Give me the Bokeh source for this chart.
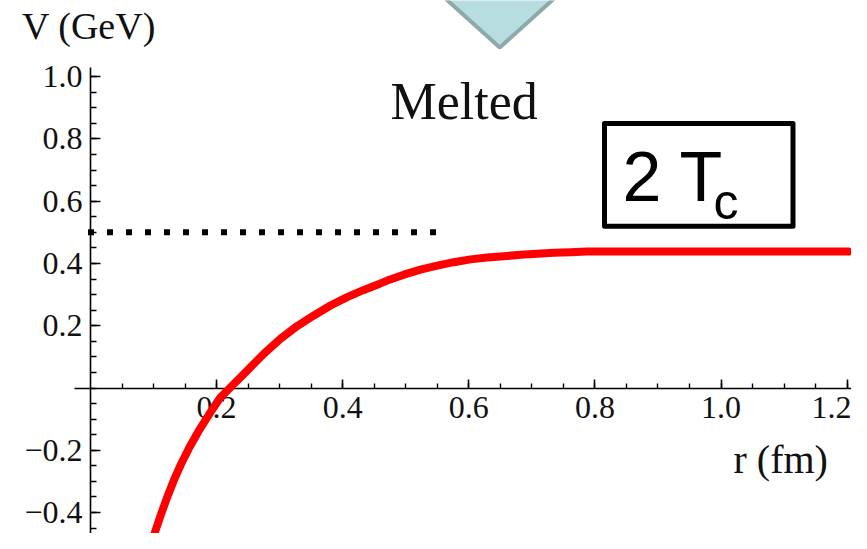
import numpy as np
from bokeh.plotting import figure
from bokeh.models import LinearAxis, FixedTicker, Label, Range1d
from bokeh.embed import file_html
from bokeh.resources import INLINE

# ---- data ----
r_fm = [0.0936, 0.1031, 0.1121, 0.1216, 0.1321, 0.1439, 0.1570, 0.1718,
        0.1887, 0.2062, 0.2210, 0.2485, 0.2749, 0.3013, 0.3278, 0.3542,
        0.3806, 0.4071, 0.4335, 0.4588, 0.4706, 0.4969, 0.5234, 0.5499,
        0.5762, 0.6027, 0.6292, 0.6555, 0.6820, 0.7085, 0.7348, 0.7613,
        0.7878, 0.8723, 1.0833, 1.2022]
V_gev = [-0.519, -0.458, -0.404, -0.351, -0.297, -0.243, -0.190, -0.137,
         -0.083, -0.030, 0.000, 0.056, 0.110, 0.158, 0.199, 0.233,
         0.265, 0.292, 0.315, 0.335, 0.345, 0.364, 0.380, 0.393,
         0.404, 0.413, 0.419, 0.423, 0.428, 0.431, 0.434, 0.436,
         0.438, 0.438, 0.438, 0.438]

thresh_r = [-0.004, 0.555]
thresh_V = [0.5, 0.5]

x_ticks = [0.2, 0.4, 0.6, 0.8, 1.0, 1.2]
x_tick_labels = ["0.2", "0.4", "0.6", "0.8", "1.0", "1.2"]
y_ticks = [-0.4, -0.2, 0.2, 0.4, 0.6, 0.8, 1.0]
y_tick_labels = ["\u22120.4", "\u22120.2", "0.2", "0.4", "0.6", "0.8", "1.0"]

x_label = "r (fm)"
y_label = "V (GeV)"
phase_label = "Melted"
temp_main = "2 T"
temp_sub = "c"

# ---- pixel helpers ----
X0, SX = 90.0, 630.5
Y0, SY = 387.5, 311.4
W, H = 851, 533


def dx(px):
    return (px - X0) / SX


def dy(py):
    return (Y0 - py) / SY


p = figure(width=W, height=H, output_backend="svg", toolbar_location=None,
           x_axis_type=None, y_axis_type=None,
           x_range=Range1d(dx(0), dx(W)), y_range=Range1d(dy(H), dy(0)),
           min_border=0)
p.outline_line_color = None
p.background_fill_color = "white"
p.border_fill_color = "white"

serif = "Liberation Serif"
sans = "Liberation Sans"

xminor = [round(v, 3) for v in np.arange(0.05, 1.21, 0.05)]
yminor = [round(v, 3) for v in np.arange(-0.5, 1.01, 0.05)]

xaxis = LinearAxis(ticker=FixedTicker(ticks=x_ticks, minor_ticks=xminor),
                   fixed_location=0, bounds=(-0.025, 1.226))
xaxis.major_label_overrides = {t: l for t, l in zip(x_ticks, x_tick_labels)}
yaxis = LinearAxis(ticker=FixedTicker(ticks=y_ticks, minor_ticks=yminor),
                   fixed_location=0, bounds=(-0.6, 1.030))
yaxis.major_label_overrides = {t: l for t, l in zip(y_ticks, y_tick_labels)}

for ax in (xaxis, yaxis):
    ax.axis_line_color = "black"
    ax.axis_line_width = 1.6
    ax.major_tick_line_color = "black"
    ax.major_tick_line_width = 1.6
    ax.minor_tick_line_color = "black"
    ax.minor_tick_line_width = 1.4
    ax.major_tick_out = 0
    ax.minor_tick_out = 0
    ax.major_label_text_font = serif
    ax.major_label_text_font_size = "32px"
    ax.major_label_text_color = "#111111"

xaxis.major_tick_in = 9
xaxis.minor_tick_in = 5
xaxis.major_label_standoff = 9
yaxis.major_tick_in = 10
yaxis.minor_tick_in = 6
yaxis.major_label_standoff = 8

p.add_layout(xaxis, "below")
p.add_layout(yaxis, "left")

# decorative arrow at top
p.patch([dx(436), dx(562.5), dx(499.3)], [dy(-10), dy(-10), dy(47)],
        fill_color="#b8dde1", line_color="#8ea9aa", line_width=4)

# threshold dotted line
p.line(thresh_r, thresh_V, line_color="black", line_width=6,
       line_dash="6 13", line_cap="butt")

# potential curve
p.line(r_fm, V_gev, line_color="#ff0000", line_width=8, line_join="round",
       line_cap="round", level="overlay")

# temperature box
p.quad(left=dx(604), right=dx(792.5), top=dy(123), bottom=dy(225.7),
       fill_color="white", line_color="black", line_width=5, line_join="round")


def add_text(txt, left, baseline, font, size, color, fix):
    p.add_layout(Label(x=dx(left), y=dy(baseline - fix * size), text=txt,
                       text_font=font, text_font_size=f"{size}px",
                       text_color=color, text_baseline="alphabetic"))


add_text(temp_main, 622, 200, sans, 70, "black", 0.33)
add_text(temp_sub, 713, 217.5, sans, 50, "black", 0.33)
add_text(phase_label, 390, 121.7, serif, 52, "#111111", 0.39)
add_text(y_label, 21.5, 40.7, serif, 38, "#111111", 0.39)
add_text(x_label, 733, 475, serif, 40, "#111111", 0.39)

open("out.html", "w").write(file_html(p, INLINE))
